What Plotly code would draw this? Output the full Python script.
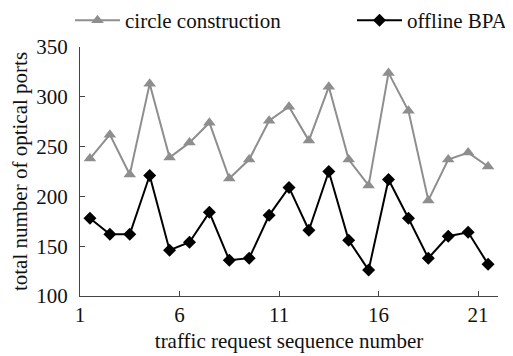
import plotly.graph_objects as go

x_pos = [i + 0.5 for i in range(1, 22)]
circle_construction = [238, 262, 222, 313, 239, 254, 274, 218, 237, 276, 290,
                       256, 310, 237, 211, 324, 286, 196, 237, 244, 230]
offline_bpa = [178, 162, 162, 221, 146, 154, 184, 136, 138, 181, 209,
               166, 225, 156, 126, 217, 178, 138, 160, 164, 132]
x_ticks = [1, 6, 11, 16, 21]
y_ticks = [100, 150, 200, 250, 300, 350]

font = "Liberation Serif, Times New Roman, serif"

# the page body has an 8px default margin, so the figure is sized to fit
W, H = 505, 348
L, R, T, B = 72, 15, 39, 60
PW, PH = W - L - R, H - T - B

fig = go.Figure()
fig.add_trace(go.Scatter(x=x_pos, y=circle_construction, mode="lines+markers",
                         name="circle construction", legend="legend",
                         line=dict(color="#8e8e8e", width=2),
                         marker=dict(symbol="triangle-up", size=11, color="#8e8e8e")))
fig.add_trace(go.Scatter(x=x_pos, y=offline_bpa, mode="lines+markers",
                         name="offline BPA", legend="legend2",
                         line=dict(color="#000000", width=2),
                         marker=dict(symbol="diamond", size=10, color="#000000")))

leg_common = dict(orientation="h", xanchor="left", yanchor="top",
                  y=(PH + T + 8) / PH,
                  font=dict(size=21, family=font, color="#111111"),
                  itemwidth=45, bgcolor="rgba(0,0,0,0)")

fig.update_layout(
    width=W, height=H,
    margin=dict(l=L, r=R, t=T, b=B, autoexpand=False),
    paper_bgcolor="white", plot_bgcolor="white",
    font=dict(family=font, size=21, color="#111111"),
    showlegend=True,
    legend=dict(leg_common, x=(62 - L) / PW),
    legend2=dict(leg_common, x=(344 - L) / PW),
    xaxis=dict(range=[1, 22], tickvals=x_ticks + [22], ticktext=[str(t) for t in x_ticks] + [""],
               ticks="inside", ticklen=5, tickcolor="#444", showline=True,
               linecolor="#444", linewidth=1, showgrid=False, zeroline=False,
               ticklabelstandoff=0,
               title=dict(text="traffic request sequence number", standoff=7,
                          font=dict(size=21))),
    yaxis=dict(range=[100, 350], tickvals=y_ticks, ticks="inside", ticklen=5,
               tickcolor="#444", showline=True, linecolor="#444", linewidth=1,
               showgrid=False, zeroline=False, ticklabelstandoff=7,
               title=dict(text="total number of optical ports", standoff=10,
                          font=dict(size=21))),
)
fig.write_html("out.html")
